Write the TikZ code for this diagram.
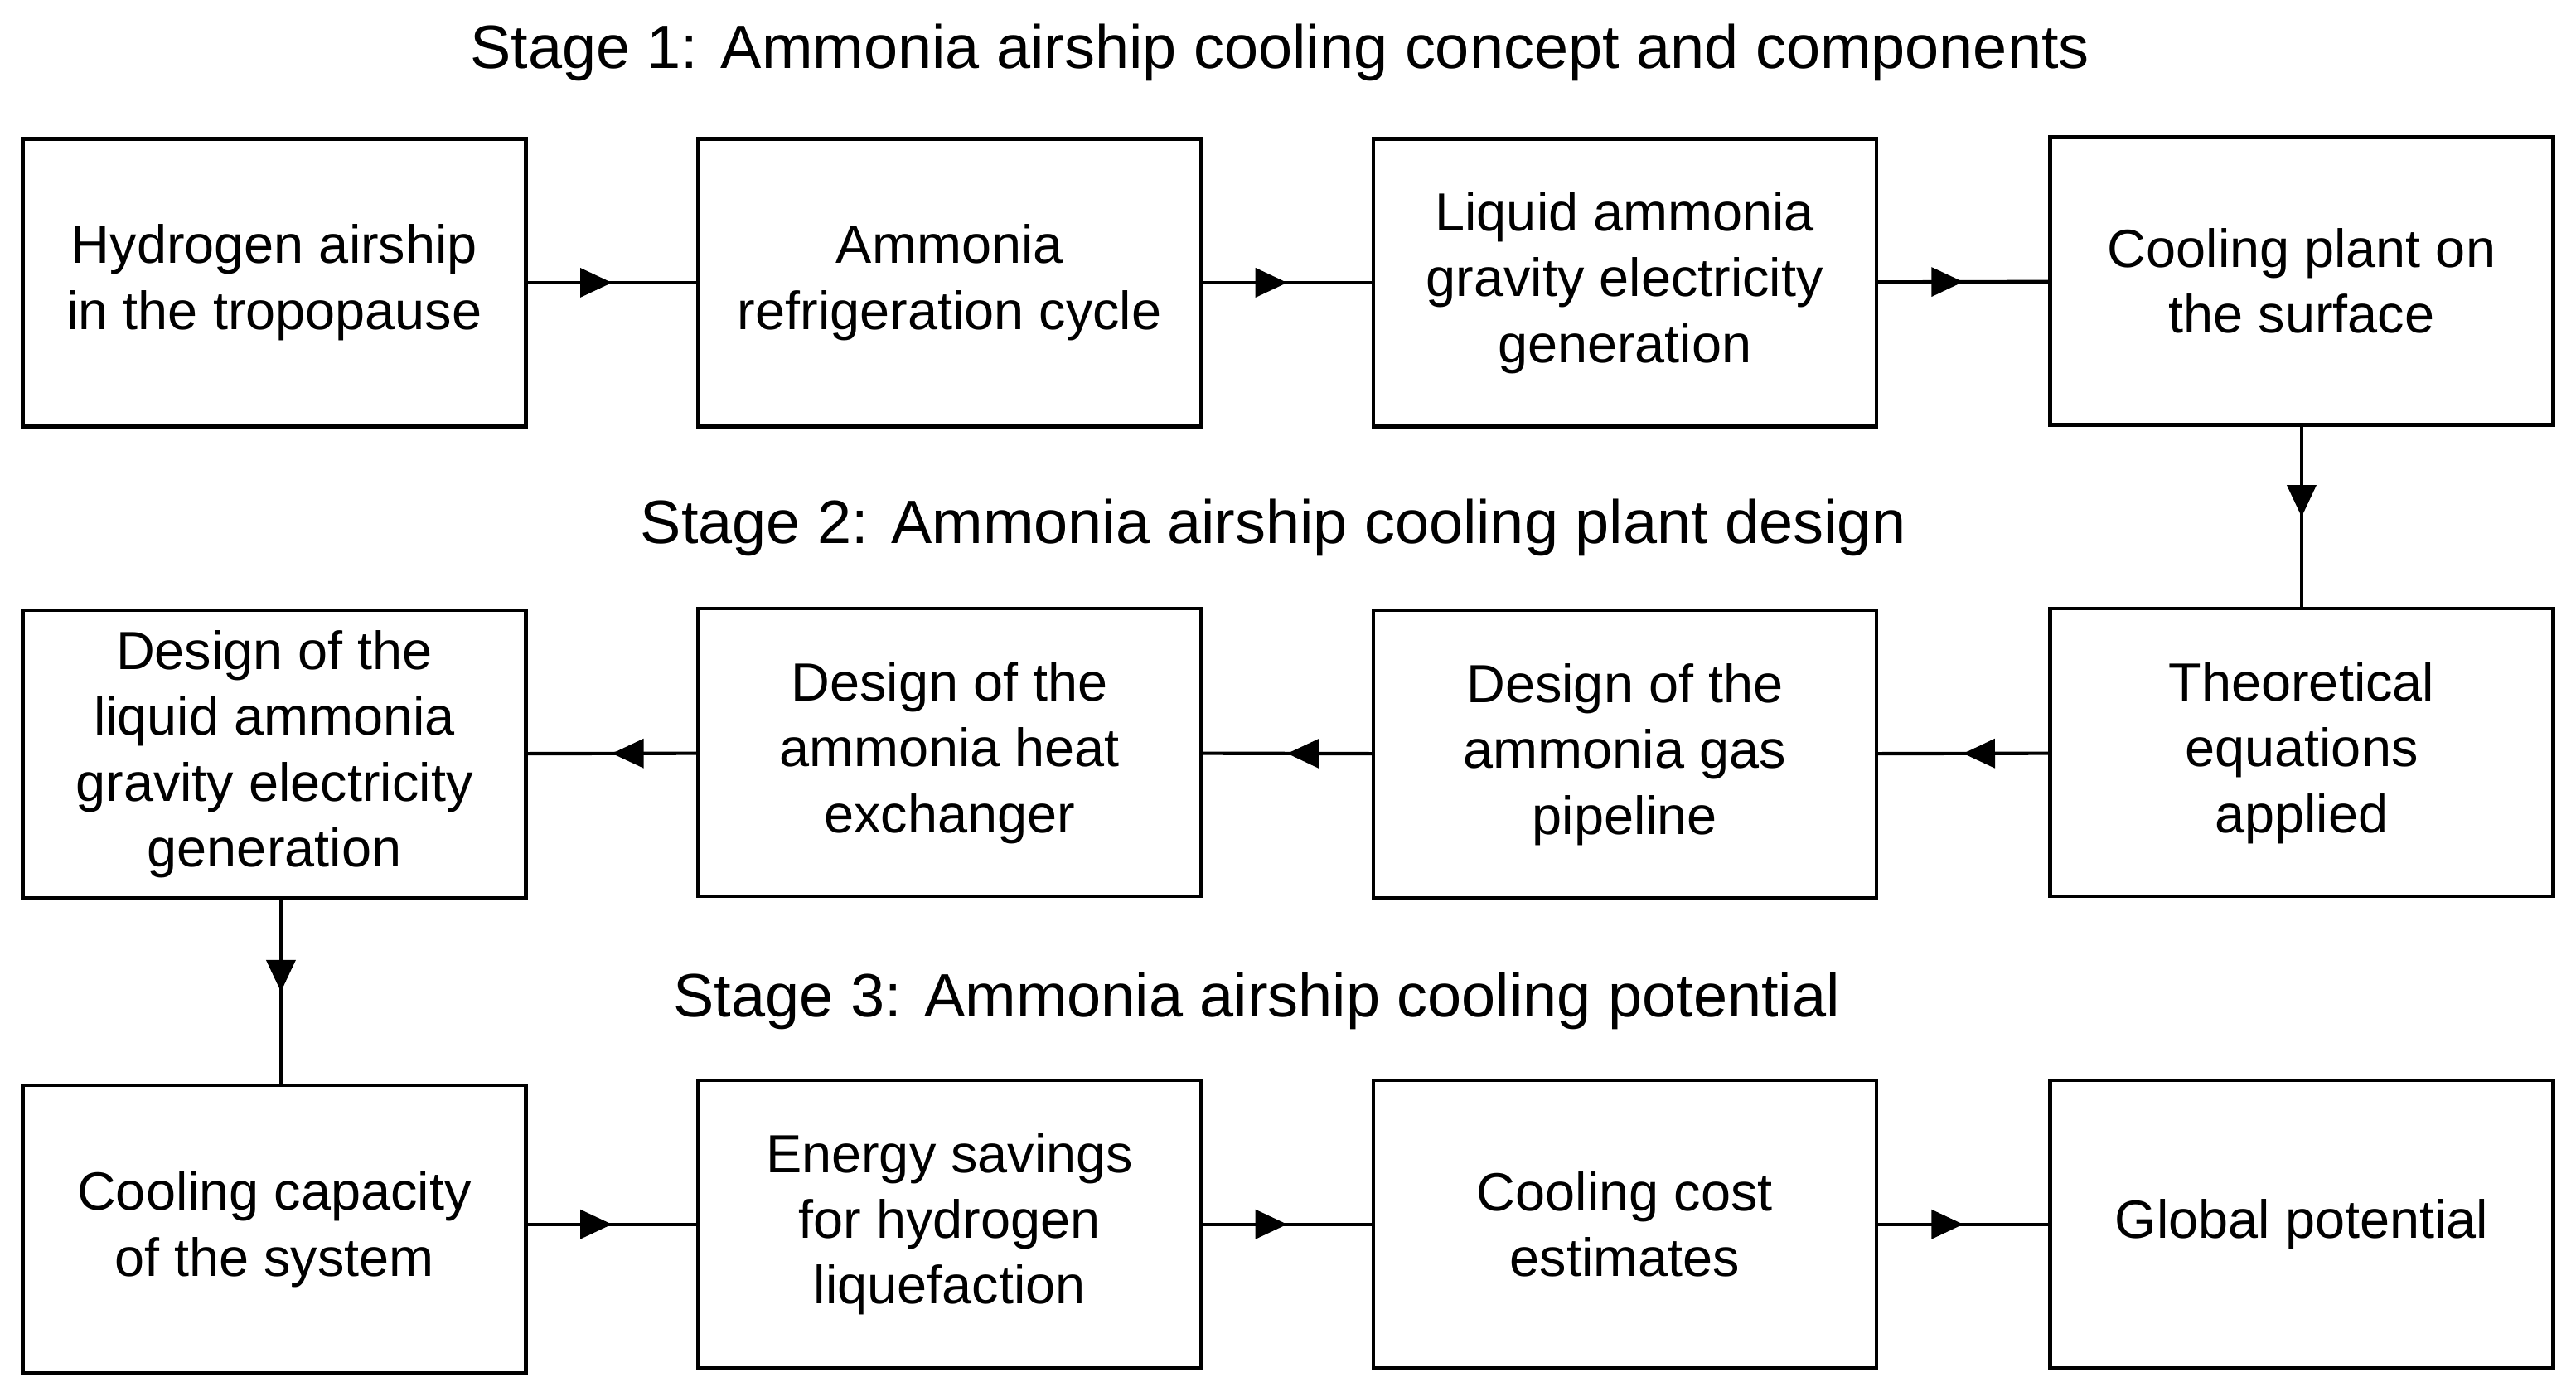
\documentclass[tikz,border=0pt]{standalone}
\usepackage{fontspec}
\setmainfont{Liberation Sans}
\usetikzlibrary{decorations.markings,arrows.meta}
\begin{document}
\begin{tikzpicture}[x=0.01cm,y=-0.01cm,
  box/.style={draw,line width=0.6pt,minimum width=306\pgflinewidth/0.6,minimum width=3.06cm,minimum height=1.75cm,align=center,font=\fontsize{9.3pt}{11.4pt}\selectfont,inner sep=0pt},
  flow/.style={line width=0.6pt,decoration={markings,mark=at position 0.5 with {\arrow{Triangle[length=5.5pt,width=5pt]}}},postaction={decorate}},
  ttl/.style={font=\fontsize{10.6pt}{12pt}\selectfont}]
\useasboundingbox (0,0) rectangle (1568,847);
\node[ttl] (t1) at (779,32) {Stage 1: Ammonia airship cooling concept and components};
\node[ttl] (t2) at (775,321) {Stage 2: Ammonia airship cooling plant design};
\node[ttl] (t3) at (765,609) {Stage 3: Ammonia airship cooling potential};
\node[box] (a1) at (167,172) {Hydrogen airship\\in the tropopause};
\node[box] (a2) at (578,172) {Ammonia\\refrigeration cycle};
\node[box] (a3) at (989,172) {Liquid ammonia\\gravity electricity\\generation};
\node[box] (a4) at (1401,171) {Cooling plant on\\the surface};
\node[box] (b4) at (1401,458) {Theoretical\\equations\\applied};
\node[box] (b3) at (989,459) {Design of the\\ammonia gas\\pipeline};
\node[box] (b2) at (578,458) {Design of the\\ammonia heat\\exchanger};
\node[box] (b1) at (167,459) {Design of the\\liquid ammonia\\gravity electricity\\generation};
\node[box] (c1) at (167,748) {Cooling capacity\\of the system};
\node[box] (c2) at (578,745) {Energy savings\\for hydrogen\\liquefaction};
\node[box] (c3) at (989,745) {Cooling cost\\estimates};
\node[box] (c4) at (1401,745) {Global potential};
\draw[flow] (a1) -- (a2);
\draw[flow] (a2) -- (a3);
\draw[flow] (a3) -- (a4);
\draw[flow] (a4) -- (b4);
\draw[flow] (b4) -- (b3);
\draw[flow] (b3) -- (b2);
\draw[flow] (b2) -- (b1);
\draw[flow] (b1.south -| 171,0) -- (c1.north -| 171,0);
\draw[flow] (c1.east |- 0,745) -- (c2);
\draw[flow] (c2) -- (c3);
\draw[flow] (c3) -- (c4);
\end{tikzpicture}
\end{document}
